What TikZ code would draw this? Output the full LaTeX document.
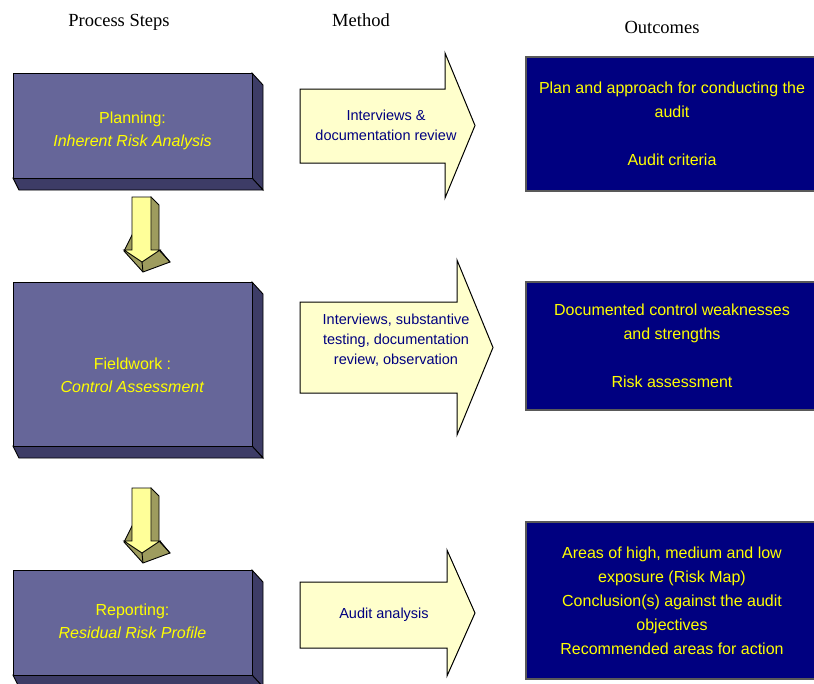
\documentclass[tikz,border=0pt]{standalone}
\usepackage{fontspec}
\setmainfont{Liberation Serif}
\newfontfamily\arialfont{Liberation Sans}
\definecolor{stepfront}{HTML}{666699}
\definecolor{stepside}{HTML}{3D3C66}
\definecolor{navybox}{HTML}{000080}
\definecolor{methodfill}{HTML}{FFFFCC}
\definecolor{downfront}{HTML}{FFFF99}
\definecolor{downside}{HTML}{9E9C5E}
\definecolor{textyellow}{HTML}{FFFF00}

\begin{document}
\begin{tikzpicture}[x=1pt,y=-1pt,
  header/.style={font=\fontsize{18.5}{20}\selectfont},
  stepface/.style={draw=black,line width=0.9,fill=stepfront},
  stepshade/.style={draw=black,line width=0.9,fill=stepside},
  steptext/.style={text=textyellow,align=center,font=\arialfont\fontsize{16}{23}\selectfont},
  methodarrow/.style={draw=black,line width=1,fill=methodfill},
  methodtext/.style={text=navybox,align=center,font=\arialfont\fontsize{14.5}{20}\selectfont},
  outbox/.style={draw=black!65,line width=1.2,fill=navybox,text=textyellow,align=center,
    font=\arialfont\fontsize{16}{24}\selectfont},
  downfrontface/.style={draw=black,line width=0.9,fill=downfront},
  downsideface/.style={draw=black,line width=0.9,fill=downside}]
  \useasboundingbox (0,0) rectangle (814,683);
  \clip (0,0) rectangle (814,683);

  % column headers
  \node[header] (hsteps) at (119,22) {Process Steps};
  \node[header] (hmethod) at (361,20) {Method};
  \node[header] (houtcomes) at (662,27) {Outcomes};

  % process steps
  \draw[stepshade] (252,73) -- (263,85) -- (263,190) -- (252,178) -- cycle;
  \draw[stepshade] (13,178) -- (252,178) -- (263,190) -- (19,190) -- cycle;
  \draw[stepface] (13,73) rectangle (252,178);
  \node[steptext] (planning) at (132.5,130.5) {Planning:\\\textit{Inherent Risk Analysis}};

  \draw[stepshade] (252,282) -- (263,294) -- (263,458) -- (252,446) -- cycle;
  \draw[stepshade] (13,446) -- (252,446) -- (263,458) -- (19,458) -- cycle;
  \draw[stepface] (13,282) rectangle (252,446);
  \node[steptext] (fieldwork) at (132.5,375) {Fieldwork :\\\textit{Control Assessment}};

  \draw[stepshade] (252,570) -- (263,582) -- (263,687) -- (252,675) -- cycle;
  \draw[stepshade] (13,675) -- (252,675) -- (263,687) -- (19,687) -- cycle;
  \draw[stepface] (13,570) rectangle (252,675);
  \node[steptext] (reporting) at (132.5,621) {Reporting:\\\textit{Residual Risk Profile}};

  % down arrows
  \begin{scope}[shift={(132,197)}]
    \draw[downsideface] (19,0) -- (27,8) -- (27,53) -- (38,65) -- (11,75) -- (-8,54) -- cycle;
    \draw[downfrontface] (0,0) -- (19,0) -- (19,53) -- (28,53) -- (10,65) -- (-8,53) -- (0,53) -- cycle;
    \draw[line width=0.9] (10,65) -- (11,75);
    \draw[line width=0.9] (28,53) -- (38,65);
  \end{scope}
  \begin{scope}[shift={(132,488)}]
    \draw[downsideface] (19,0) -- (27,8) -- (27,53) -- (38,65) -- (11,75) -- (-8,54) -- cycle;
    \draw[downfrontface] (0,0) -- (19,0) -- (19,53) -- (28,53) -- (10,65) -- (-8,53) -- (0,53) -- cycle;
    \draw[line width=0.9] (10,65) -- (11,75);
    \draw[line width=0.9] (28,53) -- (38,65);
  \end{scope}

  % methods
  \draw[methodarrow] (300,89) -- (445,89) -- (445,53) -- (475,125.5) -- (445,198) -- (445,163) -- (300,163) -- cycle;
  \node[methodtext] (interviews) at (386,125) {Interviews \&\\documentation review};

  \draw[methodarrow] (300,302) -- (457,302) -- (457,260) -- (493,347.5) -- (457,435) -- (457,393) -- (300,393) -- cycle;
  \node[methodtext] (testing) at (396,340) {Interviews, substantive\\testing, documentation\\review, observation};

  \draw[methodarrow] (300,582) -- (447,582) -- (447,550) -- (475,613) -- (447,676) -- (447,648) -- (300,648) -- cycle;
  \node[methodtext] (analysis) at (384,615) {Audit analysis};

  % outcomes
  \node[outbox,minimum width=292,minimum height=134] (plan) at (672,124)
    {Plan and approach for conducting the\\audit\\[24pt]Audit criteria};
  \node[outbox,minimum width=292,minimum height=128] (weakness) at (672,346)
    {Documented control weaknesses\\and strengths\\[24pt]Risk assessment};
  \node[outbox,minimum width=292,minimum height=157] (exposure) at (672,600.5)
    {Areas of high, medium and low\\exposure (Risk Map)\\Conclusion(s) against the audit\\objectives\\Recommended areas for action};
\end{tikzpicture}
\end{document}
